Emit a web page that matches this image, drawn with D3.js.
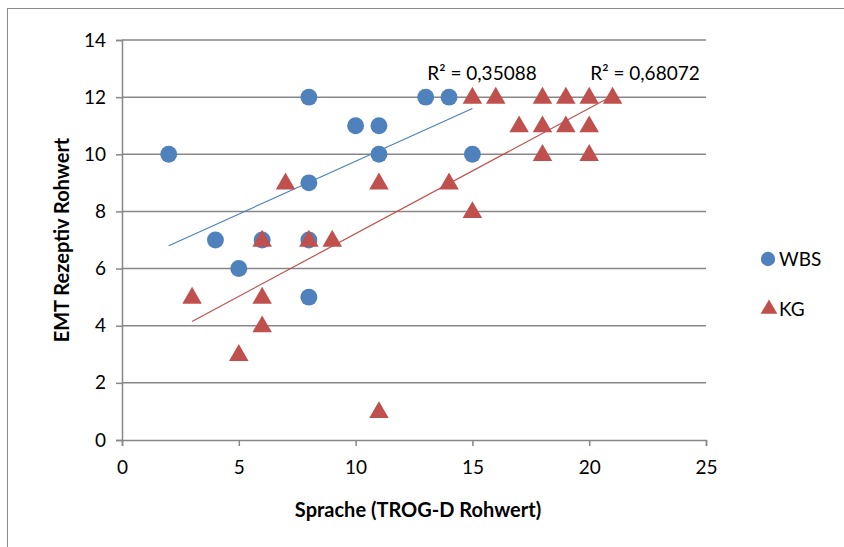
<!DOCTYPE html>
<html>
<head>
<meta charset="utf-8">
<script src="https://cdnjs.cloudflare.com/ajax/libs/d3/7.8.5/d3.min.js"></script>
<style>
  body { margin: 0; background: #fff; }
  #chart { width: 844px; height: 547px; }
  text { font-family: Lato, "Open Sans", sans-serif; fill: #000; }
</style>
</head>
<body>
<div id="chart"></div>
<script>
// data
var wbsX = [2, 4, 5, 6, 8, 8, 8, 8, 10, 11, 11, 13, 14, 15];
var wbsY = [10, 7, 6, 7, 12, 9, 7, 5, 11, 11, 10, 12, 12, 10];
var kgX = [3, 5, 6, 6, 6, 7, 8, 9, 11, 11, 14, 15, 15, 16, 17, 18, 18, 18, 19, 19, 20, 20, 20, 21];
var kgY = [5, 3, 7, 5, 4, 9, 7, 7, 9, 1, 9, 12, 8, 12, 11, 12, 11, 10, 12, 11, 12, 11, 10, 12];
var wbsTrend = [[2, 6.8], [15, 11.6]];
var kgTrend = [[3, 4.15], [21, 12.05]];
var r2Labels = ["R² = 0,35088", "R² = 0,68072"];
var seriesNames = ["WBS", "KG"];
var xTicks = [0, 5, 10, 15, 20, 25];
var yTicks = [0, 2, 4, 6, 8, 10, 12, 14];

var width = 844, height = 547;
var plotLeft = 122, plotRight = 706, plotTop = 40, plotBottom = 440;
var blue = "#4f81bd", red = "#c0504d", grey = "#878787";
var fs = 19;

var svg = d3.select("#chart").append("svg")
    .attr("width", width)
    .attr("height", height);

// outer frame (only top/left visible in the original)
svg.append("rect")
    .attr("x", 7.5).attr("y", 8.5)
    .attr("width", 860).attr("height", 560)
    .attr("fill", "none")
    .attr("stroke", "#8c8c8c")
    .attr("stroke-width", 1);

var x = d3.scaleLinear().domain([0, 25]).range([plotLeft, plotRight]);
var y = d3.scaleLinear().domain([0, 14]).range([plotBottom, plotTop]);

// grid
svg.append("g")
    .selectAll("line")
    .data(yTicks.filter(function (d) { return d > 0; }))
    .enter().append("line")
    .attr("x1", plotLeft).attr("x2", plotRight)
    .attr("y1", function (d) { return y(d); })
    .attr("y2", function (d) { return y(d); })
    .attr("stroke", grey)
    .attr("stroke-width", 1.5);

var yAxis = d3.axisLeft(y).tickValues(yTicks).tickSize(6).tickPadding(10);
var xAxis = d3.axisBottom(x).tickValues(xTicks).tickSize(6).tickPadding(15);

var yg = svg.append("g")
    .attr("transform", "translate(" + plotLeft + ",0)")
    .call(yAxis);
var xg = svg.append("g")
    .attr("transform", "translate(0," + plotBottom + ")")
    .call(xAxis);

[yg, xg].forEach(function (g) {
    g.select(".domain").attr("stroke", grey).attr("stroke-width", 1.5);
    g.selectAll(".tick line").attr("stroke", grey).attr("stroke-width", 1.5);
    g.selectAll(".tick text").attr("font-size", fs).attr("fill", "#000")
        .attr("font-family", "Lato, 'Open Sans', sans-serif");
});

// axis titles
svg.append("text")
    .attr("x", 418).attr("y", 517)
    .attr("text-anchor", "middle")
    .attr("font-size", 20).attr("font-weight", "bold")
    .text("Sprache (TROG-D Rohwert)");

svg.append("text")
    .attr("transform", "translate(69,240) rotate(-90)")
    .attr("text-anchor", "middle")
    .attr("font-size", 20).attr("font-weight", "bold")
    .text("EMT Rezeptiv Rohwert");

// trend lines
var line = d3.line()
    .x(function (d) { return x(d[0]); })
    .y(function (d) { return y(d[1]); });

svg.append("path").datum(wbsTrend)
    .attr("d", line).attr("fill", "none")
    .attr("stroke", blue).attr("stroke-width", 1.2);
svg.append("path").datum(kgTrend)
    .attr("d", line).attr("fill", "none")
    .attr("stroke", red).attr("stroke-width", 1.2);

// points
var circle = d3.symbol().type(d3.symbolCircle).size(225);
var tri = d3.symbol().type(d3.symbolTriangle).size(165);

svg.append("g").selectAll("path")
    .data(wbsX.map(function (d, i) { return [d, wbsY[i]]; }))
    .enter().append("path")
    .attr("d", circle)
    .attr("transform", function (d) { return "translate(" + x(d[0]) + "," + y(d[1]) + ")"; })
    .attr("fill", blue);

svg.append("g").selectAll("path")
    .data(kgX.map(function (d, i) { return [d, kgY[i]]; }))
    .enter().append("path")
    .attr("d", tri)
    .attr("transform", function (d) { return "translate(" + x(d[0]) + "," + (y(d[1]) + 1) + ")"; })
    .attr("fill", red);

// R² labels
svg.append("text")
    .attr("x", 482).attr("y", 80)
    .attr("text-anchor", "middle")
    .attr("font-size", fs)
    .text(r2Labels[0]);
svg.append("text")
    .attr("x", 645).attr("y", 80)
    .attr("text-anchor", "middle")
    .attr("font-size", fs)
    .text(r2Labels[1]);

// legend
var leg = svg.append("g");
leg.append("path")
    .attr("d", d3.symbol().type(d3.symbolCircle).size(160))
    .attr("transform", "translate(768,259)")
    .attr("fill", blue);
leg.append("text")
    .attr("x", 779).attr("y", 266)
    .attr("font-size", fs)
    .text(seriesNames[0]);
leg.append("path")
    .attr("d", d3.symbol().type(d3.symbolTriangle).size(120))
    .attr("transform", "translate(769,309)")
    .attr("fill", red);
leg.append("text")
    .attr("x", 779).attr("y", 316)
    .attr("font-size", fs)
    .text(seriesNames[1]);
</script>
</body>
</html>
